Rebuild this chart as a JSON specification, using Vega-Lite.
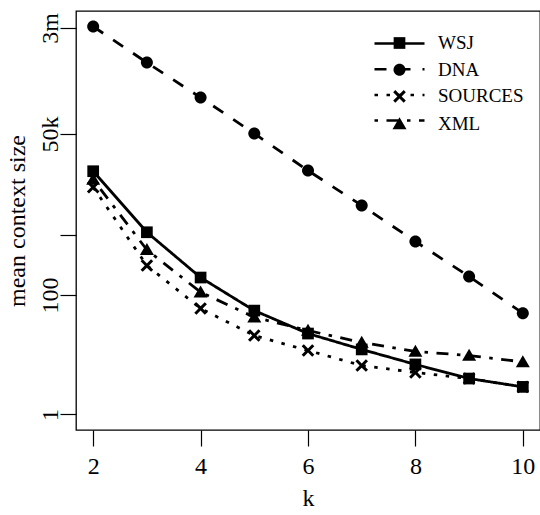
{
  "$schema": "https://vega.github.io/schema/vega-lite/v6.json",
  "width": 464,
  "height": 419,
  "autosize": "none",
  "padding": {"left": 76, "top": 11, "right": 0, "bottom": 85},
  "background": "white",
  "config": {
    "view": {"stroke": "black", "strokeWidth": 1.3},
    "font": "Liberation Serif",
    "axis": {
      "domain": false, "grid": false, "tickColor": "black", "tickWidth": 1.2, "tickSize": 16,
      "labelFont": "Liberation Serif", "labelFontSize": 24, "labelColor": "black",
      "titleFont": "Liberation Serif", "titleFontSize": 24, "titleFontWeight": "normal", "titleColor": "black",
      "labelOverlap": false, "labelFlush": false
    }
  },
  "data": {"values": [
    {"k": 2, "series": "WSJ", "value": 11900}, {"k": 3, "series": "WSJ", "value": 1130}, {"k": 4, "series": "WSJ", "value": 197},
    {"k": 5, "series": "WSJ", "value": 55}, {"k": 6, "series": "WSJ", "value": 22.7}, {"k": 7, "series": "WSJ", "value": 12.3},
    {"k": 8, "series": "WSJ", "value": 6.9}, {"k": 9, "series": "WSJ", "value": 4.0}, {"k": 10, "series": "WSJ", "value": 2.9},
    {"k": 2, "series": "DNA", "value": 3160000}, {"k": 3, "series": "DNA", "value": 787000}, {"k": 4, "series": "DNA", "value": 204000},
    {"k": 5, "series": "DNA", "value": 51000}, {"k": 6, "series": "DNA", "value": 12200}, {"k": 7, "series": "DNA", "value": 3180},
    {"k": 8, "series": "DNA", "value": 790}, {"k": 9, "series": "DNA", "value": 205}, {"k": 10, "series": "DNA", "value": 49.8},
    {"k": 2, "series": "SOURCES", "value": 6420}, {"k": 3, "series": "SOURCES", "value": 313}, {"k": 4, "series": "SOURCES", "value": 59.7},
    {"k": 5, "series": "SOURCES", "value": 21}, {"k": 6, "series": "SOURCES", "value": 11.8}, {"k": 7, "series": "SOURCES", "value": 6.6},
    {"k": 8, "series": "SOURCES", "value": 5.05}, {"k": 9, "series": "SOURCES", "value": 4.0}, {"k": 10, "series": "SOURCES", "value": 2.9},
    {"k": 2, "series": "XML", "value": 8630}, {"k": 3, "series": "XML", "value": 574}, {"k": 4, "series": "XML", "value": 112},
    {"k": 5, "series": "XML", "value": 42.6}, {"k": 6, "series": "XML", "value": 25.5}, {"k": 7, "series": "XML", "value": 16.1},
    {"k": 8, "series": "XML", "value": 11.4}, {"k": 9, "series": "XML", "value": 9.7}, {"k": 10, "series": "XML", "value": 7.6}
  ]},
  "encoding": {
    "x": {"field": "k", "type": "quantitative",
      "scale": {"domain": [1.68, 10.32], "nice": false, "zero": false},
      "axis": {"values": [2, 4, 6, 8, 10], "title": "k", "labelBaseline": "alphabetic", "labelPadding": 27,
        "titleBaseline": "alphabetic", "titleY": 75}},
    "y": {"field": "value", "type": "quantitative",
      "scale": {"type": "log", "domain": [0.5495, 5754399], "nice": false},
      "axis": {"values": [1, 100, 1000, 50000, 3000000], "title": "mean context size",
        "labelExpr": "datum.value == 3000000 ? '3m' : datum.value == 50000 ? '50k' : datum.value == 1000 ? '' : datum.value == 100 ? '100' : '1'",
        "labelAngle": 270, "labelAlign": "center", "labelBaseline": "alphabetic", "labelPadding": 3,
        "titleAngle": 270, "titleAlign": "center", "titleBaseline": "alphabetic", "titleX": -52, "titleY": 209.5}}
  },
  "layer": [
    {"mark": {"type": "line", "strokeWidth": 2.8, "color": "black", "strokeCap": "butt"},
     "encoding": {
       "strokeDash": {"field": "series", "type": "nominal",
         "scale": {"domain": ["WSJ", "DNA", "SOURCES", "XML"], "range": [[1, 0], [12, 12], [3.5, 8.5], [3.5, 8.5, 12, 8.5]]},
         "legend": {"orient": "none", "legendX": 314, "legendY": 23, "title": null, "symbolSize": 100,
           "symbolType": "M-5,0H5", "symbolStrokeWidth": 2.5, "symbolStrokeColor": "black",
           "labelFontSize": 19, "labelFont": "Liberation Serif", "labelColor": "black", "labelExpr": "''",
           "labelOffset": 29, "rowPadding": 5.7, "padding": 0}}
     }},
    {"mark": {"type": "point", "filled": true, "color": "black", "fill": "black", "strokeWidth": 0, "size": 100, "opacity": 1},
     "encoding": {
       "shape": {"field": "series", "type": "nominal", "sort": ["WSJ", "DNA", "SOURCES", "XML"],
         "scale": {"range": [
           "M-1.17,-1.17H1.17V1.17H-1.17Z",
           "M-1.2,0A1.2,1.2,0,1,0,1.2,0A1.2,1.2,0,1,0,-1.2,0Z",
           "M-1.262,-0.838L-0.838,-1.262L0,-0.424L0.838,-1.262L1.262,-0.838L0.424,0L1.262,0.838L0.838,1.262L0,0.424L-0.838,1.262L-1.262,0.838L-0.424,0Z",
           "M0,-1.35L1.4,1.05H-1.4Z"]},
         "legend": {"orient": "none", "legendX": 314, "legendY": 22.5, "title": null, "symbolSize": 100,
           "symbolStrokeWidth": 2.5, "symbolFillColor": "black",
           "labelFontSize": 19, "labelFont": "Liberation Serif", "labelColor": "black",
           "labelOffset": 29, "rowPadding": 3.7, "padding": 0}}
     }}
  ]
}
